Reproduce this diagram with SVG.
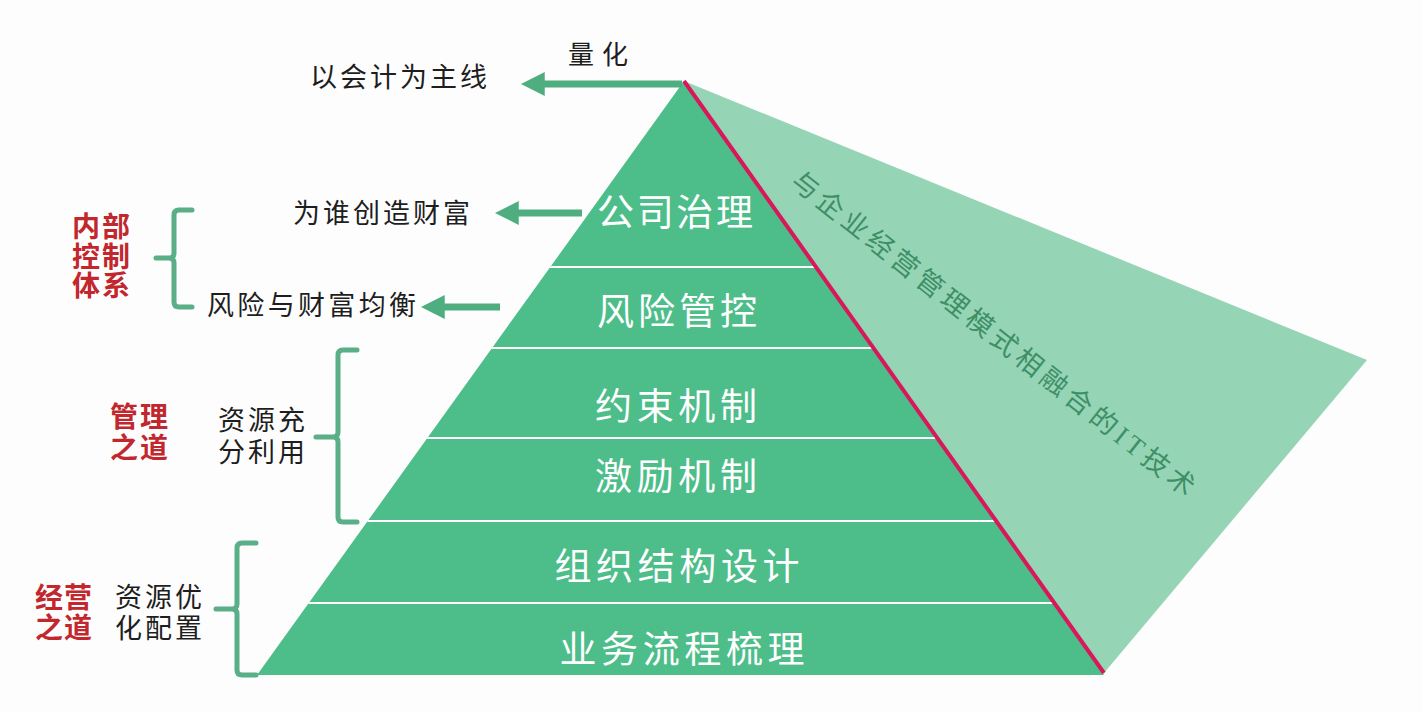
<svg xmlns="http://www.w3.org/2000/svg" width="1422" height="712" viewBox="0 0 1422 712">
<defs>
<style>
.t{font-family:"Liberation Sans","Noto Sans CJK SC",sans-serif;fill:#1e1e1e;font-size:27px}
.r{font-family:"Liberation Sans","Noto Sans CJK SC",sans-serif;fill:#c1272d;font-size:28px;font-weight:bold}
.w{font-family:"Liberation Sans","Noto Sans CJK SC",sans-serif;fill:#ffffff;font-size:37px;text-anchor:middle}
.it{font-family:"Liberation Serif","Noto Sans CJK SC",serif;fill:#3f8f66;font-size:27px;text-anchor:middle}
.arr{stroke:#4fae80;stroke-width:7;fill:none}
.br{stroke:#5aae88;stroke-width:5;fill:none;stroke-linecap:round;stroke-linejoin:round}
.band{stroke:#ffffff;stroke-width:2}
</style>
<marker id="ah" viewBox="0 0 10 10" refX="2" refY="5" markerWidth="3.4" markerHeight="3.4" orient="auto">
<path d="M0,0 L10,5 L0,10 Z" fill="#4fae80"/>
</marker>
<clipPath id="pc"><polygon points="684,81 1104,675 257,675"/></clipPath>
</defs>
<rect width="1422" height="712" fill="#fdfdfd"/>
<g id="it-face">
<polygon points="684,81 1367,360 1104,673" fill="#95d5b6"/>
<text class="it" transform="translate(993,334) rotate(38.3)" x="0" y="9" textLength="505" lengthAdjust="spacing">与企业经营管理模式相融合的IT技术</text>
</g>
<g id="pyramid">
<polygon points="684,81 1104,675 257,675" fill="#4dbd8a"/>
<g clip-path="url(#pc)">
<line class="band" x1="200" y1="267" x2="1200" y2="267"/>
<line class="band" x1="200" y1="348" x2="1200" y2="348"/>
<line class="band" x1="200" y1="438" x2="1200" y2="438"/>
<line class="band" x1="200" y1="521" x2="1200" y2="521"/>
<line class="band" x1="200" y1="603" x2="1200" y2="603"/>
</g>
<line x1="684" y1="81" x2="1104" y2="673" stroke="#d9185b" stroke-width="4"/>
</g>
<g id="layer-1"><text class="w" x="675" y="226" textLength="156" lengthAdjust="spacing">公司治理</text></g>
<g id="layer-2"><text class="w" x="677" y="325" textLength="160" lengthAdjust="spacing">风险管控</text></g>
<g id="layer-3"><text class="w" x="676" y="420" textLength="162" lengthAdjust="spacing">约束机制</text></g>
<g id="layer-4"><text class="w" x="676" y="490" textLength="162" lengthAdjust="spacing">激励机制</text></g>
<g id="layer-5"><text class="w" x="677" y="580" textLength="245" lengthAdjust="spacing">组织结构设计</text></g>
<g id="layer-6"><text class="w" x="682" y="663" textLength="245" lengthAdjust="spacing">业务流程梳理</text></g>
<g id="label-quant"><text class="t" x="568" y="64" textLength="60" lengthAdjust="spacing" style="font-size:26px">量化</text></g>
<g id="label-accounting"><text class="t" x="310" y="87" textLength="177" lengthAdjust="spacing">以会计为主线</text></g>
<g id="label-wealth"><text class="t" x="293" y="223" textLength="177" lengthAdjust="spacing">为谁创造财富</text></g>
<g id="label-balance"><text class="t" x="207" y="315" textLength="209" lengthAdjust="spacing">风险与财富均衡</text></g>
<g id="label-internal">
<text class="r" x="72" y="237" textLength="58" lengthAdjust="spacing">内部</text>
<text class="r" x="72" y="267" textLength="58" lengthAdjust="spacing">控制</text>
<text class="r" x="72" y="296" textLength="58" lengthAdjust="spacing">体系</text>
</g>
<g id="label-mgmt">
<text class="r" x="110" y="427" textLength="58" lengthAdjust="spacing">管理</text>
<text class="r" x="110" y="458" textLength="58" lengthAdjust="spacing">之道</text>
</g>
<g id="label-use">
<text class="t" x="218" y="430" textLength="87" lengthAdjust="spacing">资源充</text>
<text class="t" x="218" y="462" textLength="87" lengthAdjust="spacing">分利用</text>
</g>
<g id="label-ops">
<text class="r" x="35" y="608" textLength="57" lengthAdjust="spacing">经营</text>
<text class="r" x="35" y="638" textLength="57" lengthAdjust="spacing">之道</text>
</g>
<g id="label-alloc">
<text class="t" x="115" y="607" textLength="87" lengthAdjust="spacing">资源优</text>
<text class="t" x="115" y="638" textLength="87" lengthAdjust="spacing">化配置</text>
</g>
<g id="connectors">
<line class="arr" x1="682" y1="84" x2="540" y2="84" marker-end="url(#ah)"/>
<line class="arr" x1="582" y1="213" x2="514" y2="213" marker-end="url(#ah)"/>
<line class="arr" x1="500" y1="307" x2="440" y2="307" marker-end="url(#ah)"/>
<path class="br" d="M192,210 H179 Q174,210 174,215 V253 Q174,258 169,258 H156 M169,258 Q174,258 174,263 V302 Q174,307 179,307 H192"/>
<path class="br" d="M357,350 H343 Q338,350 338,355 V432 Q338,437 333,437 H316 M333,437 Q338,437 338,442 V517 Q338,522 343,522 H357"/>
<path class="br" d="M256,543 H242 Q237,543 237,548 V604 Q237,609 232,609 H216 M232,609 Q237,609 237,614 V670 Q237,675 242,675 H256"/>
</g>
</svg>
